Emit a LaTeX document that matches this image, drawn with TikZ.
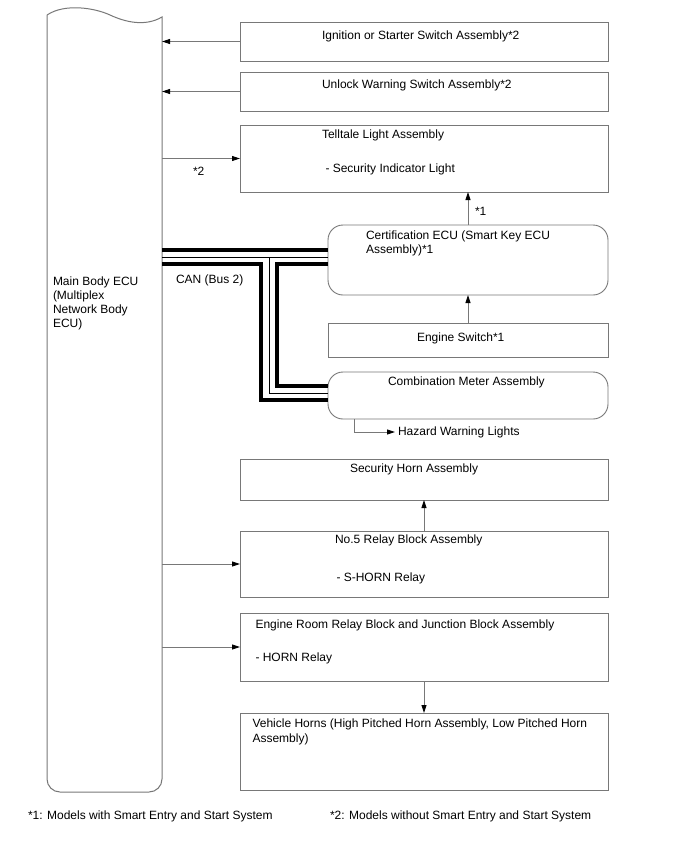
\documentclass[tikz,border=0pt]{standalone}
\usepackage{fontspec}
\setmainfont{Liberation Sans}
\usetikzlibrary{arrows.meta}
\definecolor{linegray}{RGB}{120,120,120}
\begin{document}
\begin{tikzpicture}[x=1pt,y=-1pt,
  box/.style={draw=linegray,line width=0.9pt,inner sep=0pt,outer sep=0pt,anchor=north west,minimum width=368pt},
  rbox/.style={box,rounded corners=15pt,minimum width=280pt},
  txt/.style={inner sep=0pt,outer sep=0pt,anchor=base west,font=\fontsize{12}{14}\selectfont},
  arr/.style={draw=linegray,line width=0.9pt,-{Triangle[length=8pt,width=5pt,color=black]}},
  canthick/.style={draw=black,line width=4pt,line cap=butt,line join=miter},
  canthin/.style={draw=black,line width=0.9pt,line cap=butt,line join=miter}]
\fill[white] (0,0) rectangle (688,852);
\useasboundingbox (0,0) rectangle (688,852);

% Main body ECU
\node[inner sep=0pt,outer sep=0pt,minimum width=115pt,minimum height=777pt,anchor=south west] (ecu) at (47,792) {};
\draw[draw=linegray,line width=1pt] (47,15) .. controls (65,3) and (95,8) .. (110,15)
   .. controls (125,22) and (145,27) .. (162,17)
   [rounded corners=13pt] -- (162,792) -- (47,792) -- (47,15);
\node[txt,align=left,font=\fontsize{12}{13.7}\selectfont] (ecuT) at (53,327) {Main Body ECU\\(Multiplex\\Network Body\\ECU)};

% Boxes
\node[box,minimum height=39pt] (ign) at (240,22) {};
\node[txt] (ignT) at (322,39) {Ignition or Starter Switch Assembly*2};
\node[box,minimum height=39pt] (unl) at (240,72) {};
\node[txt] (unlT) at (322,88.5) {Unlock Warning Switch Assembly*2};
\node[box,minimum height=67pt] (tell) at (240,125) {};
\node[txt] (tellT) at (322,138) {Telltale Light Assembly};
\node[txt] (tellS) at (325.5,172) {- Security Indicator Light};
\node[rbox,minimum height=70pt] (cert) at (328,225) {};
\node[txt,align=left,font=\fontsize{12}{14.5}\selectfont] (certT) at (366,253.5) {Certification ECU (Smart Key ECU\\Assembly)*1};
\node[box,minimum width=280pt,minimum height=34pt] (esw) at (328,323) {};
\node[txt] (eswT) at (417,341) {Engine Switch*1};
\node[rbox,minimum height=47pt] (meter) at (328,372) {};
\node[txt] (meterT) at (388,385) {Combination Meter Assembly};
\node[box,minimum height=41pt] (shorn) at (240,459) {};
\node[txt] (shornT) at (350,472.5) {Security Horn Assembly};
\node[box,minimum height=66pt] (rb5) at (240,531) {};
\node[txt] (rb5T) at (335,543.5) {No.5 Relay Block Assembly};
\node[txt] (rb5S) at (336.5,581) {- S-HORN Relay};
\node[box,minimum height=68pt] (err) at (240,613) {};
\node[txt] (errT) at (255.5,628.5) {Engine Room Relay Block and Junction Block Assembly};
\node[txt] (errS) at (255.5,661) {- HORN Relay};
\node[box,minimum height=77pt] (horns) at (240,713) {};
\node[txt,align=left,font=\fontsize{12}{14.5}\selectfont] (hornsT) at (252.5,742) {Vehicle Horns (High Pitched Horn Assembly, Low Pitched Horn\\Assembly)};

% Labels
\node[txt] (can) at (176,283) {CAN (Bus 2)};
\node[txt] (st2) at (193,175) {*2};
\node[txt] (st1) at (475,215) {*1};
\node[txt,anchor=west,inner xsep=3pt] (haz) at (395,432) {Hazard Warning Lights};
\node[txt] (fn1) at (28,819) {*1: Models with Smart Entry and Start System};
\node[txt] (fn2) at (330,819) {*2: Models without Smart Entry and Start System};

% Arrows
\draw[arr] (ign.west) -- (ign.west -| ecu.east);
\draw[arr] (unl.west) -- (unl.west -| ecu.east);
\draw[arr] (tell.west -| ecu.east) -- (tell.west);
\draw[arr] (cert.north) -- (cert.north |- tell.south);
\draw[arr] (esw.north) -- (cert.south);
\draw[arr] (rb5.north) -- (shorn.south);
\draw[arr] (rb5.west -| ecu.east) -- (rb5.west);
\draw[arr] (err.west -| ecu.east) -- (err.west);
\draw[arr] (err.south) -- (horns.north);
\draw[arr] ([xshift=26pt]meter.south west) |- (haz.west);

% CAN bus
\coordinate (a1) at ([yshift=-25pt]cert.north west);
\coordinate (b1) at ([yshift=-32pt]cert.north west);
\coordinate (c1) at ([yshift=-39pt]cert.north west);
\coordinate (d2) at ([yshift=-14pt]meter.north west);
\coordinate (b2) at ([yshift=-21pt]meter.north west);
\coordinate (c2) at ([yshift=-28pt]meter.north west);
\coordinate (vC) at ([xshift=99pt]ecu.east);
\coordinate (vB) at ([xshift=107pt]ecu.east);
\coordinate (vD) at ([xshift=115pt]ecu.east);
\draw[canthick] (a1 -| ecu.east) -- (a1);
\draw[canthin] (b1 -| ecu.east) -- (b1);
\draw[canthin] (vB |- b1) -- (vB |- b2) -- (b2);
\draw[canthick] (c1 -| ecu.east) -| (vC |- c2) -- (c2);
\draw[canthick] (c1) -| (vD |- d2) -- (d2);
\end{tikzpicture}
\end{document}
